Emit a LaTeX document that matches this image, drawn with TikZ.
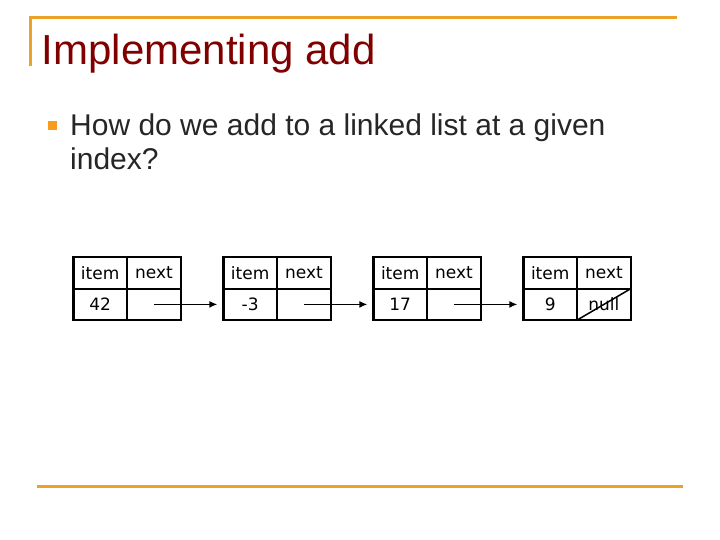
\documentclass[tikz,border=0pt]{standalone}
\usepackage{fontspec}
\setmainfont{Liberation Sans}
\newfontfamily\cellfont{DejaVu Sans}
\usetikzlibrary{arrows,arrows.meta,positioning}
\definecolor{titlered}{RGB}{128,0,0}
\definecolor{rulegold}{RGB}{234,163,40}
\definecolor{bulletgold}{RGB}{247,156,28}

\begin{document}
\begin{tikzpicture}[x=1pt,y=-1pt,>={Latex[length=8pt,width=7pt]},
  cell/.style={draw,line width=2.3pt,minimum width=53.7pt,minimum height=31.4pt,inner sep=0pt,outer sep=0pt,font=\cellfont\fontsize{17}{20}\selectfont},
  rule/.style={draw=rulegold,line width=3pt},
  body/.style={anchor=base west,inner sep=0pt,text=black!85,font=\fontsize{30}{34}\selectfont},
  link/.style={->,line width=1.4pt,shorten >=6pt}]
\useasboundingbox (0,0) rectangle (720,540);
% slide frame
\coordinate (ruleA) at (30,66);
\coordinate (ruleB) at (30,18);
\coordinate (ruleC) at (677,18);
\coordinate (ruleD) at (37,486);
\coordinate (ruleE) at (683,486);
\draw[rule] (ruleA) -- (ruleB) -- (ruleC);
\draw[rule] (ruleD) -- (ruleE);
\node[anchor=base west,inner sep=0pt,text=titlered,font=\fontsize{42}{50}\selectfont] (title) at (41.5,65) {Implementing add};
\node[fill=bulletgold,minimum size=9pt,inner sep=0pt] (dot) at (52.5,126) {};
\node[body] (ask) at (70,136) {How do we add to a linked list at a given};
\node[body] (ask2) at (70,170) {index?};
% list nodes
\node[cell] (item1) at (100.2,273) {item};
\node[cell,right=0pt of item1] (next1) {next};
\node[cell,below=0pt of item1] (val1) {42};
\node[cell,below=0pt of next1] (ptr1) {};
\node[cell] (item2) at (250.2,273) {item};
\node[cell,right=0pt of item2] (next2) {next};
\node[cell,below=0pt of item2] (val2) {-3};
\node[cell,below=0pt of next2] (ptr2) {};
\node[cell] (item3) at (400.2,273) {item};
\node[cell,right=0pt of item3] (next3) {next};
\node[cell,below=0pt of item3] (val3) {17};
\node[cell,below=0pt of next3] (ptr3) {};
\node[cell] (item4) at (550.2,273) {item};
\node[cell,right=0pt of item4] (next4) {next};
\node[cell,below=0pt of item4] (val4) {9};
\node[cell,below=0pt of next4] (ptr4) {null};
\draw[line width=1.5pt] (ptr4.south west) -- (ptr4.north east);
\draw[link] (ptr1.center) -- (val2.west);
\draw[link] (ptr2.center) -- (val3.west);
\draw[link] (ptr3.center) -- (val4.west);
\end{tikzpicture}
\end{document}
